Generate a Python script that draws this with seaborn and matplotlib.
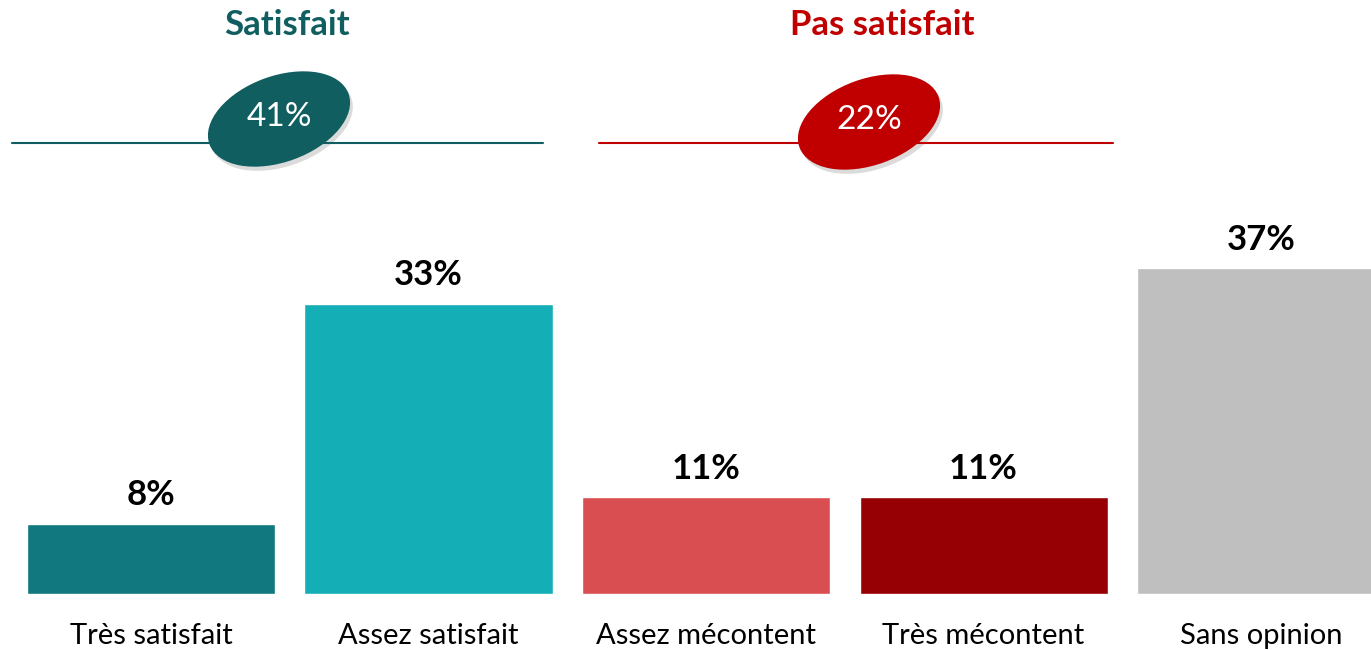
import matplotlib
matplotlib.use("Agg")
import matplotlib.pyplot as plt
import matplotlib.patches as mpatches
import matplotlib.patheffects as pe
import matplotlib.transforms as mtransforms
import seaborn as sns

categories = ["Très satisfait", "Assez satisfait", "Assez mécontent", "Très mécontent", "Sans opinion"]
values = [8, 33, 11, 11, 37]
bar_colors = ["#10787E", "#14AFB6", "#D94F51", "#960004", "#BFBFBF"]

group_titles = ["Satisfait", "Pas satisfait"]
group_totals = [41, 22]
group_colors = ["#105E60", "#C00000"]

sns.set_theme(style="white")
plt.rcParams["font.family"] = ["Lato", "DejaVu Sans"]

W, H = 1371, 650
fig = plt.figure(figsize=(W / 100, H / 100), dpi=100)
ax = fig.add_axes([0, 56 / H, 1, 594 / H])

sns.barplot(x=categories, y=values, hue=categories, palette=bar_colors,
            width=0.894, saturation=1, legend=False, ax=ax)

ax.set_xlim(-0.544, 4.396)
ax.set_ylim(0, 67.5)
ax.set_yticks([])
ax.set_xlabel("")
ax.set_ylabel("")
for s in ax.spines.values():
    s.set_visible(False)
ax.tick_params(axis="x", length=0, pad=21, labelsize=21, labelcolor="black")

for i, v in enumerate(values):
    ax.annotate(f"{v}%", (i, v), xytext=(0, 9), textcoords="offset points",
                ha="center", va="bottom", fontsize=25, fontweight="bold", color="black")

# pixel coords from top-left
px = mtransforms.Affine2D().scale(1 / W, -1 / H).translate(0, 1) + fig.transFigure

lines_x = [(12, 543), (599, 1113)]
ell_centers = [(279, 119), (869, 122)]
title_x = [287, 882]
for k in range(2):
    x0, x1 = lines_x[k]
    fig.add_artist(plt.Line2D([x0, x1], [143, 143], color=group_colors[k], lw=1.5, transform=px))
    cx, cy = ell_centers[k]
    ell = mpatches.Ellipse((cx, cy), 148, 86, angle=-20, facecolor=group_colors[k],
                           edgecolor="none", transform=px)
    ell.set_path_effects([pe.SimplePatchShadow(offset=(2, -3), shadow_rgbFace="#999999", alpha=0.35),
                          pe.Normal()])
    fig.add_artist(ell)
    fig.text(cx, cy - 2, f"{group_totals[k]}%", transform=px, ha="center", va="center",
             fontsize=24, color="white")
    fig.text(title_x[k], 25, group_titles[k], transform=px, ha="center", va="center",
             fontsize=25, fontweight="bold", color=group_colors[k])

fig.savefig("out.png", dpi=100)
